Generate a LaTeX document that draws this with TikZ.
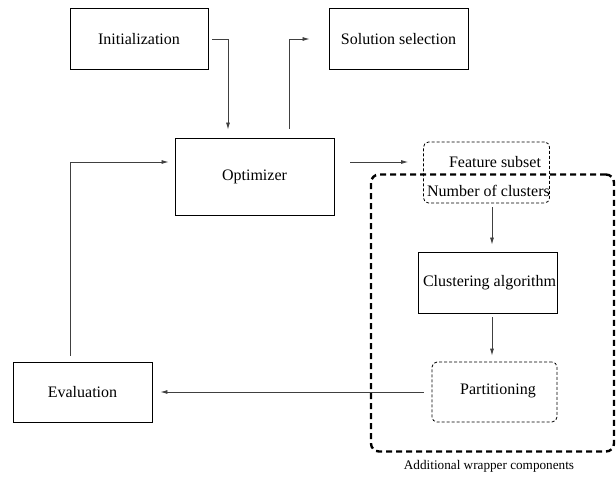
\documentclass[tikz,border=0pt]{standalone}
\usepackage{fontspec}
\setmainfont{Liberation Serif}
\usetikzlibrary{arrows.meta}
\begin{document}
\begin{tikzpicture}[x=1pt,y=-1pt,
 box/.style={draw, line width=0.9pt, inner sep=0pt, font=\fontsize{16}{19}\selectfont},
 dbox/.style={draw, dash pattern=on 3pt off 2pt, rounded corners=5pt, line width=0.8pt, inner sep=0pt},
 bigbox/.style={draw, dash pattern=on 6pt off 4pt, rounded corners=8pt, line width=2.4pt, inner sep=0pt},
 lbl/.style={font=\fontsize{16}{19}\selectfont, inner sep=0pt},
 small/.style={font=\fontsize{13.2}{15}\selectfont, inner sep=0pt},
 conn/.style={draw=black!75, line width=0.8pt, -{Latex[length=7pt,width=4pt]}},
 ]
\useasboundingbox (0,0) rectangle (616,480);
% boxes
\node[box, minimum width=138pt, minimum height=61pt] (init) at (139,39) {Initialization};
\node[box, minimum width=139pt, minimum height=61pt] (sol) at (398.5,39) {Solution selection};
\node[box, minimum width=159pt, minimum height=77pt] (opt) at (254.5,176.5) {Optimizer};
\node[bigbox, minimum width=243pt, minimum height=277pt] (wrap) at (492.5,313) {};
\node[dbox, minimum width=126pt, minimum height=61pt] (feat) at (486.5,172.5) {};
\node[lbl] (feattxt) at (495,162) {Feature subset};
\node[lbl] (numtxt) at (488.5,191) {Number of clusters};
\node[box, minimum width=139pt, minimum height=61pt] (clust) at (487.5,282.5) {};
\node[lbl] (clusttxt) at (489.5,283) {Clustering algorithm};
\node[dbox, minimum width=125pt, minimum height=60pt] (part) at (494.5,392) {};
\node[lbl] (parttxt) at (498,391) {Partitioning};
\node[box, minimum width=139pt, minimum height=60pt] (eval) at (82.5,392) {Evaluation};
\node[small] (wraplbl) at (489,466) {Additional wrapper components};
% connectors
\draw[conn, shorten <=4pt, shorten >=8pt] (init.east) -| ([xshift=-26.5pt]opt.north);
\draw[conn, shorten <=9pt, shorten >=19pt] ([xshift=35pt]opt.north) |- (sol.west);
\draw[conn, shorten <=16pt, shorten >=15pt] ([yshift=14.5pt]opt.east) -- ([yshift=14.5pt]opt.east -| feat.west);
\draw[conn, shorten <=6pt, shorten >=6pt] ([xshift=-12.5pt]eval.north) |- ([yshift=14.5pt]opt.west);
\draw[conn, shorten <=4pt, shorten >=7pt] ([xshift=5.5pt]feat.south) -- ([xshift=5.5pt]feat.south |- clust.north);
\draw[conn, shorten <=4pt, shorten >=6pt] ([xshift=4.5pt]clust.south) -- ([xshift=4.5pt]clust.south |- part.north);
\draw[conn, shorten <=8pt, shorten >=8pt] (part.west) -- (eval.east);
\end{tikzpicture}
\end{document}
